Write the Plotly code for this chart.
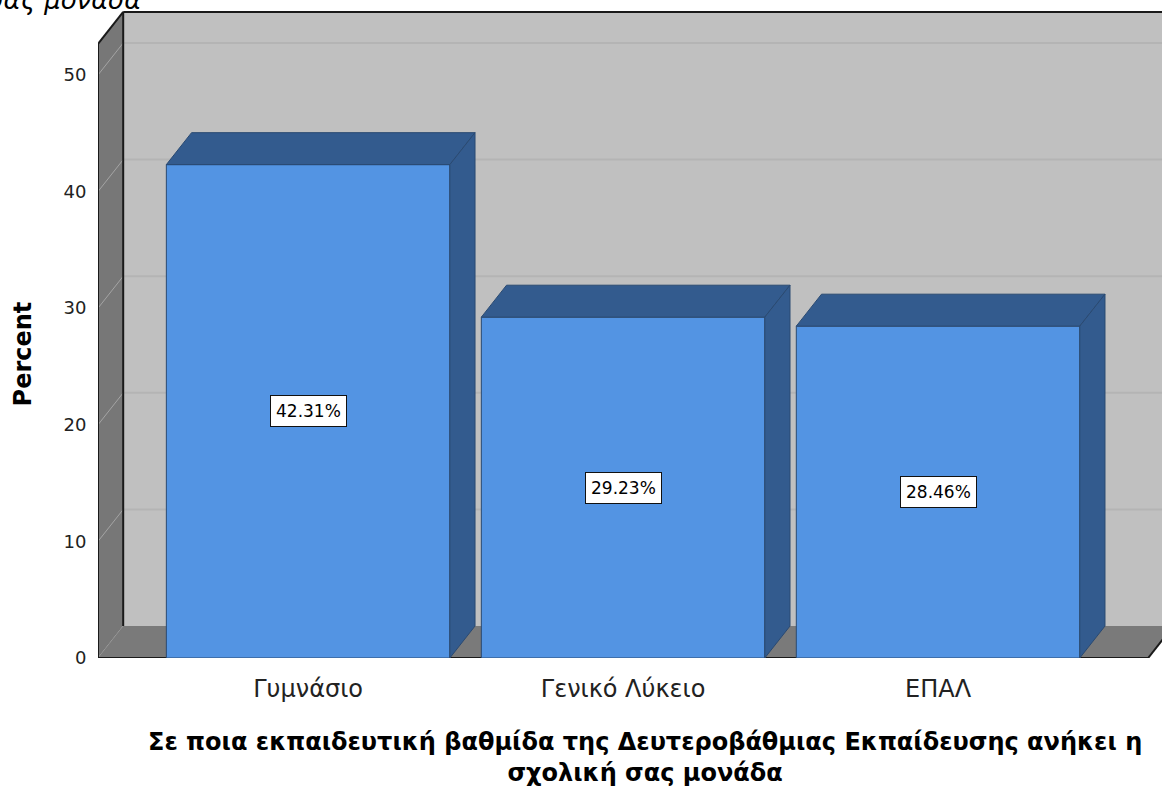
import plotly.graph_objects as go

categories = ["Γυμνάσιο", "Γενικό Λύκειο", "ΕΠΑΛ"]
percents = [42.31, 29.23, 28.46]
y_ticks = [0, 10, 20, 30, 40, 50]

x_title = "Σε ποια εκπαιδευτική βαθμίδα της Δευτεροβάθμιας Εκπαίδευσης ανήκει η<br>σχολική σας μονάδα"
y_title = "Percent"

# 3d look: depth offset in data units (category units / percent units)
DX = 0.08
DY = 2.74
HALF = 0.45
X_LO, X_HI = -0.667, 2.667
Y_TOP = 52.66

FRONT = "#5394e3"
DARK = "#335b8e"
EDGE = "#2a4a72"
WALL = "#c0c0c0"
SIDE_WALL = "#777777"
FONT = "DejaVu Sans"


def path(pts):
    return "M " + " L ".join(f"{x},{y}" for x, y in pts) + " Z"


xs = list(range(len(categories)))

shapes = []
# back wall, left wall, floor
shapes.append(dict(type="path", layer="below", line_width=0, fillcolor=WALL,
                   path=path([(X_LO + DX, DY), (X_HI + DX, DY), (X_HI + DX, Y_TOP + DY), (X_LO + DX, Y_TOP + DY)])))
for t in y_ticks[1:]:
    shapes.append(dict(type="line", layer="below", x0=X_LO + DX, x1=X_HI + DX, y0=t + DY, y1=t + DY,
                       line=dict(color="#b4b4b4", width=2)))
shapes.append(dict(type="path", layer="below", line_width=0, fillcolor=SIDE_WALL,
                   path=path([(X_LO, 0), (X_LO, Y_TOP), (X_LO + DX, Y_TOP + DY), (X_LO + DX, DY)])))
for t in y_ticks:
    shapes.append(dict(type="line", layer="below", x0=X_LO, x1=X_LO + DX, y0=t, y1=t + DY,
                       line=dict(color="#a4a4a4", width=1)))
shapes.append(dict(type="path", layer="below", line_width=0, fillcolor="#7a7a7a",
                   path=path([(X_LO, 0), (X_HI, 0), (X_HI + DX, DY), (X_LO + DX, DY)])))
# black frame edges
for (a, b) in [((X_LO + DX, DY), (X_LO + DX, Y_TOP + DY)),
               ((X_LO + DX, Y_TOP + DY), (X_HI + DX, Y_TOP + DY)),
               ((X_LO, Y_TOP), (X_LO + DX, Y_TOP + DY)),
               ((X_LO, 0), (X_LO, Y_TOP)),
               ((X_LO, 0), (X_HI, 0)),
               ((X_HI, 0), (X_HI + DX, DY))]:
    shapes.append(dict(type="line", layer="below", x0=a[0], y0=a[1], x1=b[0], y1=b[1],
                       line=dict(color="#1a1a1a", width=2)))

fig = go.Figure()
fig.add_trace(go.Bar(x=xs, y=percents, width=2 * HALF, marker_color=FRONT,
                     marker_line=dict(color=EDGE, width=1), hoverinfo="skip"))

# top and side faces of each bar
for x, v in zip(xs, percents):
    top = [(x - HALF, v), (x + HALF, v), (x + HALF + DX, v + DY), (x - HALF + DX, v + DY), (x - HALF, v)]
    side = [(x + HALF, 0), (x + HALF, v), (x + HALF + DX, v + DY), (x + HALF + DX, DY), (x + HALF, 0)]
    for face in (top, side):
        fig.add_trace(go.Scatter(x=[p[0] for p in face], y=[p[1] for p in face], mode="lines",
                                 fill="toself", fillcolor=DARK, line=dict(color=EDGE, width=1),
                                 hoverinfo="skip"))

annotations = []
for x, v in zip(xs, percents):
    annotations.append(dict(x=x, y=v / 2, xref="x", yref="y", text=f"{v:.2f}%", showarrow=False,
                            bgcolor="white", bordercolor="#111", borderwidth=1, borderpad=5,
                            font=dict(family=FONT, size=17, color="black")))

annotations.append(dict(x=-0.0705, y=0.47, xref="paper", yref="paper", text=f"<b>{y_title}</b>",
                        textangle=-90, showarrow=False, xanchor="center", yanchor="middle",
                        font=dict(family=FONT, size=24, color="black")))
annotations.append(dict(x=0.514, y=-0.1543, xref="paper", yref="paper", text=f"<b>{x_title}</b>",
                        showarrow=False, xanchor="center", yanchor="middle",
                        font=dict(family=FONT, size=24, color="black")))
# chart title, mostly cut off above the picture
annotations.append(dict(x=0.0423, y=1.0154, xref="paper", yref="paper", text="<i>σχολική σας μονάδα</i>",
                        showarrow=False, xanchor="right", yanchor="middle",
                        font=dict(family=FONT, size=26, color="black")))

fig.update_layout(
    width=1162, height=789,
    margin=dict(l=98, r=0, t=10, b=131),
    paper_bgcolor="white", plot_bgcolor="white",
    showlegend=False,
    shapes=shapes,
    annotations=annotations,
    xaxis=dict(range=[X_LO, 2.711], tickmode="array", tickvals=xs, ticktext=categories,
               showgrid=False, zeroline=False, showline=False,
               ticks="outside", ticklen=9, tickcolor="rgba(0,0,0,0)",
               tickfont=dict(family=FONT, size=24, color="#222")),
    yaxis=dict(range=[0, 55.57], tickvals=y_ticks, showgrid=False, zeroline=False, showline=False,
               ticks="outside", ticklen=7, tickcolor="rgba(0,0,0,0)",
               tickfont=dict(family=FONT, size=18, color="#222")),
)

fig.write_html("out.html", config={"displayModeBar": False},
               post_script="document.body.style.margin='0px';")
